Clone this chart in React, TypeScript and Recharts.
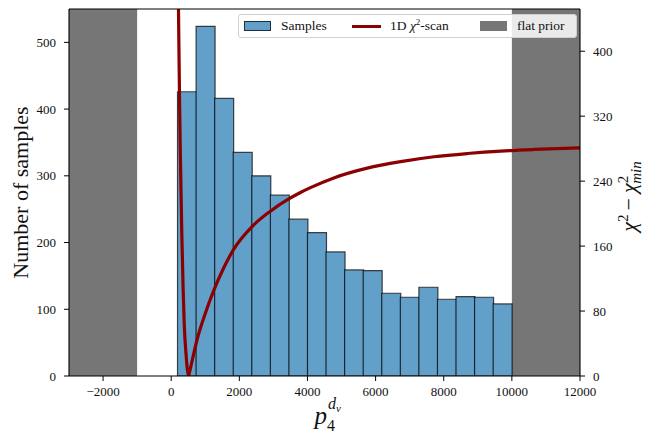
import React from 'react';
import { ComposedChart, Bar, Line, XAxis, YAxis, ReferenceArea, ReferenceLine } from 'recharts';

const binCenters = [458, 1003, 1548, 2093, 2638, 3183, 3728, 4273, 4818, 5363, 5908, 6453, 6998, 7543, 8088, 8633, 9178, 9723];
const binCounts = [426, 524, 416, 335, 300, 271, 235, 215, 186, 159, 158, 124, 118, 133, 115, 119, 118, 108];

const scanX = [180, 215, 245, 265, 290, 314, 350, 382, 441, 475, 509, 540, 600, 755, 1000, 1245, 1540, 1833, 2373, 2912, 3450, 3794, 4088, 4774, 5755, 6735, 7715, 8696, 9676, 10656, 12000];
const scanChi2 = [580, 448, 340, 283, 222, 170, 108, 65, 24, 8, 0, 5, 16, 44, 77, 105, 133, 156, 184, 203, 218, 226, 232, 244, 256, 264, 270, 274, 277, 279, 281];

const priorLow = [-3000, -1000];
const priorHigh = [10000, 12000];

const xTicks = [-2000, 0, 2000, 4000, 6000, 8000, 10000, 12000];
const leftTicks = [0, 100, 200, 300, 400, 500];
const rightTicks = [0, 80, 160, 240, 320, 400];

const xDomain = [-3000, 12000];
const leftDomain = [0, 550];
const rightDomain = [0, 452];

const histData = binCenters.map((x, i) => ({ x, count: binCounts[i] }));
const scanData = scanX.map((x, i) => ({ x, chi2: scanChi2[i] }));

const FONT = '"Liberation Serif", "DejaVu Serif", serif';
const BAR_FILL = '#62a0ca';
const BAR_EDGE = 'rgba(0,0,0,0.7)';
const LINE_COLOR = '#8b0000';
const PRIOR_FILL = '#767676';

const fmtX = (v: number) => (v < 0 ? '\u2212' + Math.abs(v) : String(v));

const LeftLabel = (props: any) => {
  const vb = props.viewBox || { x: 0, y: 9, width: 69, height: 367 };
  const cy = vb.y + vb.height / 2;
  return (
    <text transform={`translate(28, ${cy}) rotate(-90)`} textAnchor="middle" fontSize={22} fontFamily={FONT} fill="#111">
      Number of samples
    </text>
  );
};

const RightLabel = (props: any) => {
  const vb = props.viewBox || { x: 580, y: 9, width: 65, height: 367 };
  const cy = vb.y + vb.height / 2 + 4;
  return (
    <text transform={`translate(636, ${cy}) rotate(-90)`} textAnchor="middle" fontSize={22} fontFamily={FONT} fill="#111">
      <tspan fontStyle="italic">χ</tspan>
      <tspan fontSize={15} dy={-8}>2</tspan>
      <tspan dx={4} dy={8}>−</tspan>
      <tspan dx={5} fontStyle="italic">χ</tspan>
      <tspan fontSize={15} dy={-8}>2</tspan>
      <tspan fontSize={15} fontStyle="italic" dx={-8} dy={13}>min</tspan>
    </text>
  );
};

const BottomLabel = (props: any) => {
  const vb = props.viewBox || { x: 69, y: 376, width: 511, height: 60 };
  const cx = vb.x + vb.width / 2;
  return (
    <text x={cx - 10} y={424} textAnchor="start" fontSize={25} fontFamily={FONT} fill="#111">
      <tspan fontStyle="italic">p</tspan>
      <tspan fontSize={16} dy={7}>4</tspan>
      <tspan fontSize={16} fontStyle="italic" dx={-7} dy={-22}>d</tspan>
      <tspan fontSize={11} fontStyle="italic" dy={3}>v</tspan>
    </text>
  );
};

const Legendbox = () => (
  <div
    style={{
      position: 'absolute',
      left: 238,
      top: 14,
      width: 339,
      height: 24,
      boxSizing: 'border-box',
      border: '1px solid #d0d0d0',
      borderRadius: 3,
      background: 'rgba(255,255,255,0.85)',
      fontFamily: FONT,
      fontSize: 13.5,
      color: '#111',
    }}
  >
    <div style={{ position: 'absolute', left: 5, top: 6, width: 27, height: 10, boxSizing: 'border-box', background: BAR_FILL, border: '1px solid rgba(0,0,0,0.7)' }} />
    <div style={{ position: 'absolute', left: 42, top: 3, lineHeight: '16px', whiteSpace: 'nowrap' }}>Samples</div>
    <div style={{ position: 'absolute', left: 113, top: 10, width: 29, height: 3, background: LINE_COLOR }} />
    <div style={{ position: 'absolute', left: 151, top: 3, lineHeight: '16px', whiteSpace: 'nowrap' }}>
      1D <i>χ</i>
      <sup style={{ fontSize: 9, lineHeight: 0 }}>2</sup>-scan
    </div>
    <div style={{ position: 'absolute', left: 241, top: 6, width: 27, height: 10, background: PRIOR_FILL }} />
    <div style={{ position: 'absolute', left: 278, top: 3, lineHeight: '16px', whiteSpace: 'nowrap' }}>flat prior</div>
  </div>
);

export default function App() {
  const tickStyle = { fontSize: 13, fill: '#111', fontFamily: FONT };
  const axisLine = { stroke: '#000', strokeWidth: 1.1 };
  const tickLine = { stroke: '#000', strokeWidth: 1 };
  return (
    <div style={{ position: 'absolute', left: 0, top: 0, width: 645, height: 436, background: '#fff' }}>
      <ComposedChart
        width={645}
        height={436}
        data={histData}
        margin={{ top: 9, right: 0, bottom: 0, left: 0 }}
        barCategoryGap={0}
        barGap={0}
      >
        <XAxis
          xAxisId="x"
          dataKey="x"
          type="number"
          domain={xDomain}
          ticks={xTicks}
          allowDataOverflow
          interval={0}
          height={60}
          tickSize={5}
          tickMargin={6}
          tickFormatter={fmtX}
          tick={tickStyle}
          axisLine={axisLine}
          tickLine={tickLine}
          label={<BottomLabel />}
        />
        <XAxis xAxisId="lx" dataKey="x" type="number" domain={xDomain} allowDataOverflow hide height={0} />
        <YAxis
          yAxisId="l"
          orientation="left"
          type="number"
          domain={leftDomain}
          ticks={leftTicks}
          allowDataOverflow
          interval={0}
          width={69}
          tickSize={5}
          tickMargin={8}
          tick={tickStyle}
          axisLine={axisLine}
          tickLine={tickLine}
          label={<LeftLabel />}
        />
        <YAxis
          yAxisId="r"
          orientation="right"
          type="number"
          domain={rightDomain}
          ticks={rightTicks}
          allowDataOverflow
          interval={0}
          width={65}
          tickSize={5}
          tickMargin={8}
          tick={tickStyle}
          axisLine={axisLine}
          tickLine={tickLine}
          label={<RightLabel />}
        />
        <ReferenceArea xAxisId="x" yAxisId="l" x1={priorLow[0]} x2={priorLow[1]} fill={PRIOR_FILL} fillOpacity={1} stroke="none" />
        <ReferenceArea xAxisId="x" yAxisId="l" x1={priorHigh[0]} x2={priorHigh[1]} fill={PRIOR_FILL} fillOpacity={1} stroke="none" />
        <Bar
          xAxisId="x"
          yAxisId="l"
          dataKey="count"
          fill={BAR_FILL}
          stroke={BAR_EDGE}
          strokeWidth={1.2}
          isAnimationActive={false}
        />
        <Line
          xAxisId="lx"
          yAxisId="r"
          data={scanData}
          dataKey="chi2"
          type="monotone"
          stroke={LINE_COLOR}
          strokeWidth={3.2}
          dot={false}
          activeDot={false}
          isAnimationActive={false}
        />
        <ReferenceLine xAxisId="x" yAxisId="l" y={leftDomain[1]} stroke="#000" strokeWidth={1.1} />
      </ComposedChart>
      <Legendbox />
    </div>
  );
}
